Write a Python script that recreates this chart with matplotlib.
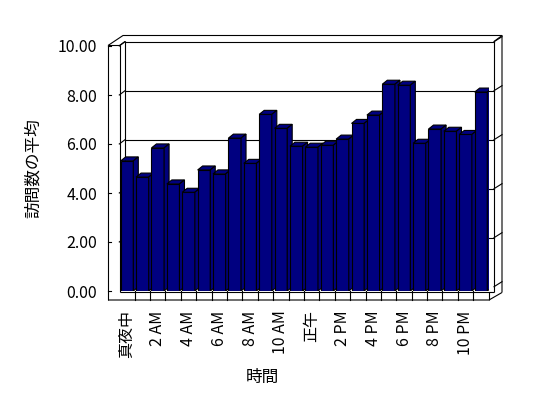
import matplotlib
matplotlib.use("Agg")
import matplotlib.pyplot as plt
from matplotlib.patches import Polygon

plt.rcParams['font.family'] = ['Noto Sans CJK JP', 'DejaVu Sans']

# 時間ごとの訪問数の平均
hours = list(range(24))
values = [5.31, 4.65, 5.84, 4.37, 4.03, 4.94, 4.78, 6.24, 5.21, 7.21, 6.64, 5.91,
          5.87, 5.95, 6.20, 6.84, 7.18, 8.44, 8.40, 6.03, 6.61, 6.52, 6.39, 8.12]
tick_pos = list(range(0, 24, 2))
tick_labels = ['真夜中', '2 AM', '4 AM', '6 AM', '8 AM', '10 AM',
               '正午', '2 PM', '4 PM', '6 PM', '8 PM', '10 PM']
y_ticks = [0, 2, 4, 6, 8, 10]

W, H = 548, 398
fig = plt.figure(figsize=(W / 100, H / 100), dpi=100)
fig.patch.set_facecolor('white')

# 軸の配置 (ピクセル)
X0, SLOT = 119.3, 15.39      # x=-0.5 の位置, 1本あたりの幅
Y0, UNIT = 291.0, 24.5       # y=0 の位置, 1 単位あたり
ax = fig.add_axes([X0 / W, (H - Y0) / H, 24 * SLOT / W, 10 * UNIT / H])
ax.set_xlim(-0.5, 23.5)
ax.set_ylim(0, 10)
ax.patch.set_visible(False)
for s in ax.spines.values():
    s.set_visible(False)


def px(x, y):
    # ピクセル座標 -> データ座標
    return ((x - X0) / SLOT - 0.5, (Y0 - y) / UNIT)


lw = 0.8
k = 'black'
navy = '#000080'

def line(pts, z=1, **kw):
    xs, ys = zip(*[px(*p) for p in pts])
    ax.plot(xs, ys, color=k, lw=lw, zorder=z, clip_on=False, solid_capstyle='butt', **kw)

# 壁の奥行き
WDX, WDY = 5.7 / SLOT, 4.3 / UNIT
bl, br = px(125, 0)[0], px(494, 0)[0]

# 背面の目盛線
for v in y_ticks[1:]:
    ax.plot([bl, br], [v + WDY, v + WDY], color=k, lw=lw, zorder=1, clip_on=False)
    ax.plot([-0.5, bl], [v, v + WDY], color=k, lw=lw, zorder=1, clip_on=False)
    ax.plot([br, br + 8 / SLOT], [v + WDY, v + WDY + 5 / UNIT], color=k, lw=lw, zorder=1, clip_on=False)
    ax.plot([px(108, 0)[0], px(110.5, 0)[0]], [v, v], color=k, lw=lw, zorder=1, clip_on=False)
ax.plot([br, br + 8 / SLOT], [WDY, WDY + 5 / UNIT], color=k, lw=lw, zorder=1, clip_on=False)
ax.plot([px(108, 0)[0], px(110.5, 0)[0]], [0, 0], color=k, lw=lw, zorder=1, clip_on=False)

# 枠 (左の壁, 上端, 右端, 床)
line([(108, 45.5), (108, 300)])
line([(119.5, 45.5), (119.5, 291.5)])
line([(108, 45.5), (119.5, 45.5)])
line([(108, 45.5), (123, 35.5), (502, 35.5), (502, 292.5)])
line([(119.5, 45.5), (125, 41.5)])
line([(125, 41.5), (125, 287)])
line([(494, 41.5), (494, 291.5)])
line([(494, 41.5), (502, 35.5)])
line([(108, 300), (489, 300), (502, 292.5)])
line([(119.5, 291.5), (494, 291.5)])
line([(489, 291.5), (489, 300)])
for b in range(23):
    ax.plot([b + 0.5, b + 0.5], [0, px(0, 300)[1]], color=k, lw=lw, zorder=1, clip_on=False)

# 3D 棒
bw = 0.82
dx, dy = 5 / SLOT, 4 / UNIT
bars = ax.bar(hours, values, width=bw, color=navy, edgecolor=k, linewidth=lw)
for i, (h, v) in enumerate(zip(hours, values)):
    z = 3 + i * 0.1
    bars[i].set_zorder(z)
    x0, x1 = h - bw / 2, h + bw / 2
    top = Polygon([(x0, v), (x0 + dx, v + dy), (x1 + dx, v + dy), (x1, v)],
                  closed=True, facecolor=navy, edgecolor=k, lw=lw, zorder=z + 0.03)
    side = Polygon([(x1, 0), (x1 + dx, dy), (x1 + dx, v + dy), (x1, v)],
                   closed=True, facecolor='#00007c', edgecolor=k, lw=lw, zorder=z + 0.05)
    ax.add_patch(top)
    ax.add_patch(side)

# 目盛ラベル
ax.set_yticks(y_ticks)
ax.set_yticklabels(['%.2f' % v for v in y_ticks], fontsize=11.5)
ax.set_xticks(tick_pos)
ax.set_xticklabels(tick_labels, rotation=90, fontsize=11.5)
ax.tick_params(axis='y', length=0, pad=16)
ax.tick_params(axis='x', length=0, pad=14)

ax.set_ylabel('訪問数の平均', fontsize=12, va='center', ha='center')
ax.yaxis.set_label_coords((33 - X0) / (24 * SLOT), (Y0 - 168) / (10 * UNIT))
ax.set_xlabel('時間', fontsize=12, va='center', ha='center')
ax.xaxis.set_label_coords((262 - X0) / (24 * SLOT), (Y0 - 377) / (10 * UNIT))

fig.savefig('out.png', dpi=100)
